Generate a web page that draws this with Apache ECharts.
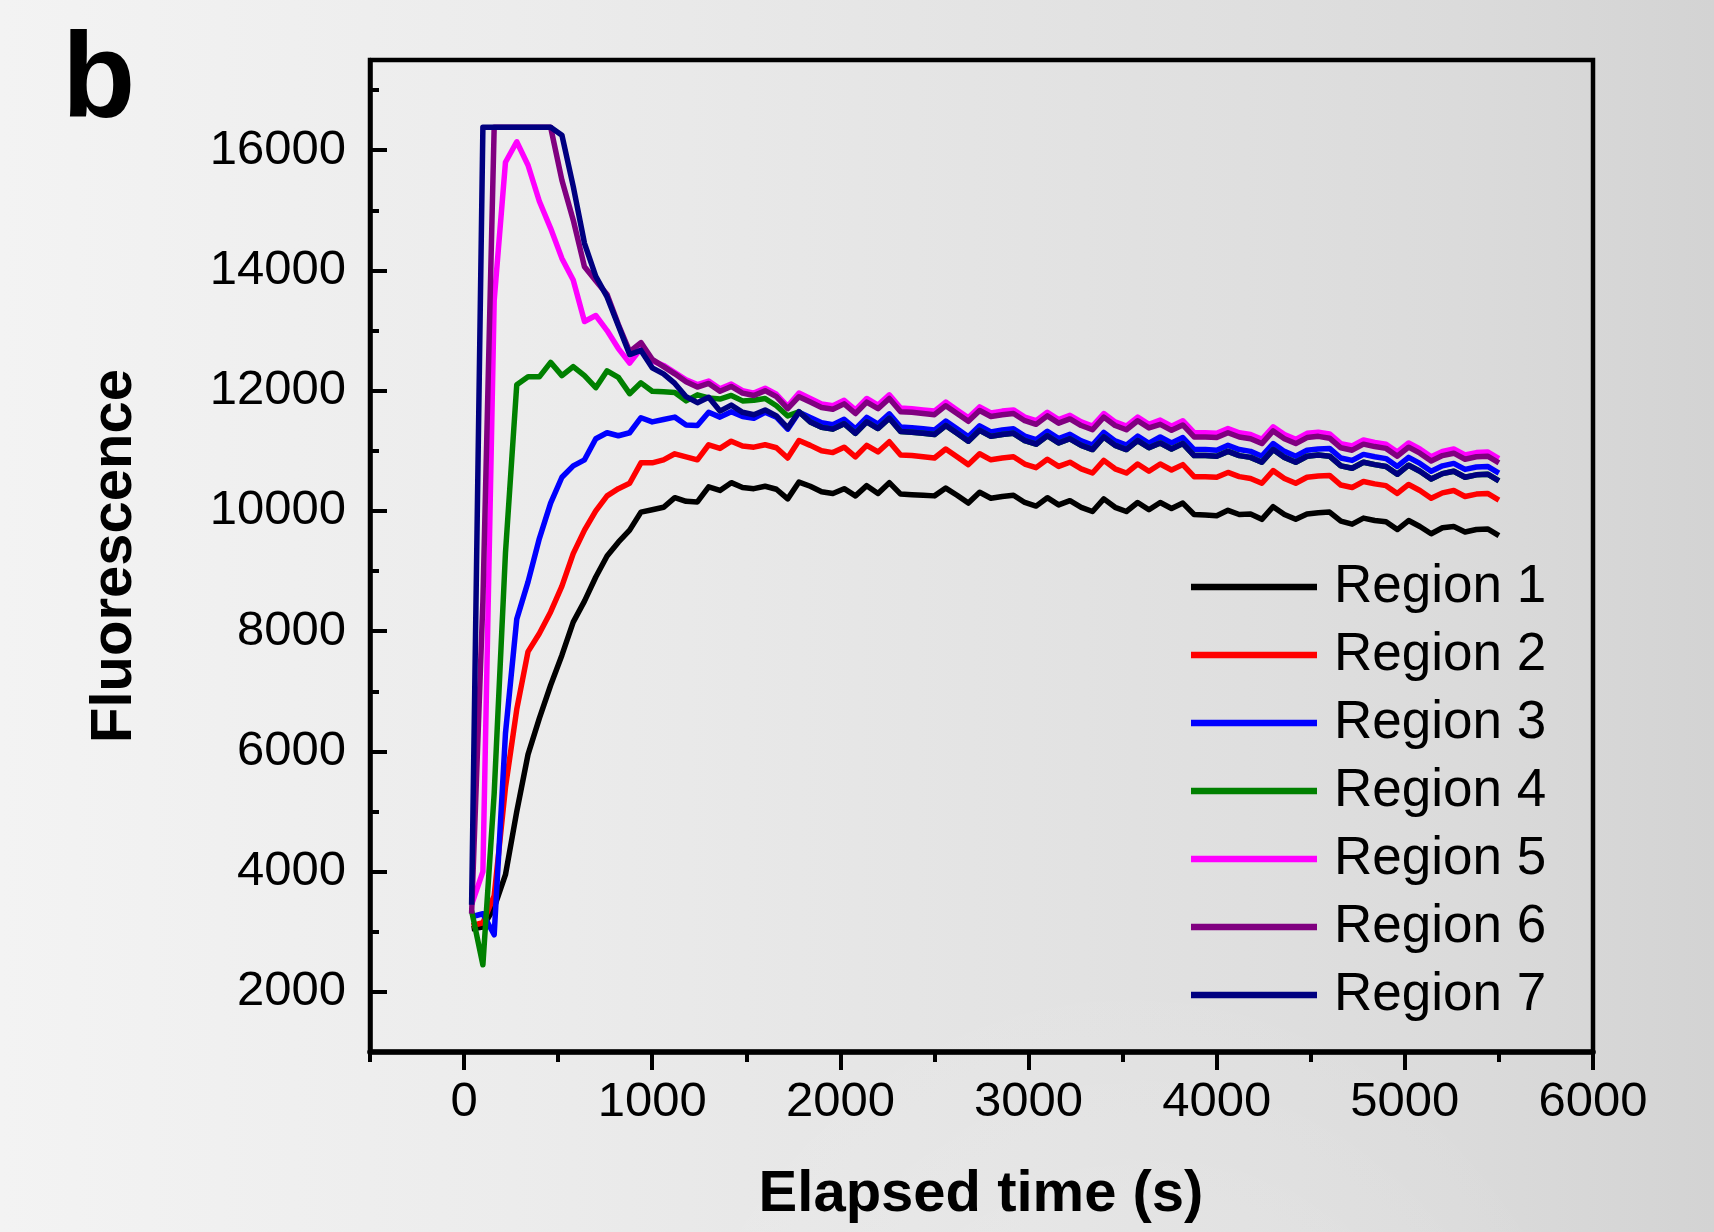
<!DOCTYPE html>
<html>
<head>
<meta charset="utf-8">
<script src="https://cdn.jsdelivr.net/npm/echarts@6/dist/echarts.min.js"></script>
<style>
html,body{margin:0;padding:0;width:1714px;height:1232px;overflow:hidden;}
body{background:
  radial-gradient(ellipse 520px 600px at 1120px 1560px, rgba(255,255,255,0.25), rgba(255,255,255,0) 100%),
  linear-gradient(to right,#f3f3f3 0%,#ececec 30%,#e3e3e3 60%,#dbdbdb 85%,#d3d3d3 100%);}
#c{width:1714px;height:1232px;}
</style>
</head>
<body>
<div id="c"></div>
<script>
const times = [40,100,160,220,280,340,400,460,520,580,640,700,760,820,880,940,1000,1060,1120,1180,1240,1300,1360,1420,1480,1540,1600,1660,1720,1780,1840,1900,1960,2020,2080,2140,2200,2260,2320,2380,2440,2500,2560,2620,2680,2740,2800,2860,2920,2980,3040,3100,3160,3220,3280,3340,3400,3460,3520,3580,3640,3700,3760,3820,3880,3940,4000,4060,4120,4180,4240,4300,4360,4420,4480,4540,4600,4660,4720,4780,4840,4900,4960,5020,5080,5140,5200,5260,5320,5380,5440,5500];

const region1 = [3050,3080,3400,3950,5000,5950,6550,7100,7600,8150,8500,8900,9250,9480,9680,9980,10020,10060,10220,10160,10150,10400,10340,10470,10390,10370,10410,10360,10200,
10480,10410,10320,10290,10370,10250,10420,10290,10470,10280,10270,10260,10250,10380,10260,10130,10310,10210,10240,10260,10140,10080,10220,10100,10170,10060,9990,10200,10060,9990,10140,10020,10140,10040,10130,9940,9930,9920,10010,9940,9950,9860,10070,9940,9860,9950,9970,9980,9830,9780,9880,9840,9820,9690,9840,9740,9620,9720,9740,9650,9690,9700,9590];

const region2 = [3100,3150,3600,5400,6700,7660,7960,8320,8750,9290,9680,10000,10250,10370,10460,10800,10800,10850,10950,10900,10850,11100,11040,11160,11080,11060,11100,11050,10880,
11170,11090,11000,10970,11060,10900,11090,10980,11150,10930,10920,10900,10880,11030,10900,10770,10950,10850,10880,10900,10780,10720,10860,10740,10810,10700,10630,10840,10700,10630,10780,10660,10780,10680,10770,10570,10570,10560,10640,10570,10540,10460,10670,10540,10460,10560,10580,10590,10430,10390,10490,10450,10420,10290,10440,10340,10210,10300,10340,10240,10280,10290,10180];

const region3 = [3250,3300,2950,6300,8200,8820,9540,10130,10560,10750,10850,11200,11300,11250,11300,11550,11480,11520,11560,11430,11420,11640,11560,11650,11570,11540,11640,11560,11360,11640,
11555,11465,11435,11525,11365,11555,11445,11615,11395,11385,11365,11345,11495,11365,11235,11415,11315,11345,11365,11245,11185,11325,11205,11275,11165,11095,11305,11165,11095,11245,11125,
11230,11130,11220,11020,11020,11010,11090,11020,10990,10910,11120,10990,10910,11010,11030,11040,10880,10840,10940,10900,10870,10740,10890,10790,10660,10750,10790,10690,10730,10740,10630];

const region4 = [3350,2450,5300,9300,12100,12230,12230,12470,12250,12400,12250,12050,12330,12220,11950,12130,11990,11980,11970,11830,11930,11880,11860,11920,11830,11840,11870,11750,11580,11650,
11480,11390,11360,11450,11290,11480,11370,11540,11320,11310,11290,11270,11420,11290,11160,11340,11240,11270,11290,11170,11110,11250,11130,11200,11090,11020,11230,11090,11020,11170,11050,
11130,11030,11120,10920,10920,10910,10990,10920,10890,10810,11020,10890,10810,10910,10930,
10910,10750,10710,10810,10770,10740,10610,10760,10660,10530,10620,10660,10560,10600,10610,10500];

const region5 = [3450,4000,13500,15800,16140,15750,15150,14700,14200,13840,13150,13250,13000,12700,12460,12700,12500,12420,12300,12180,12100,12160,12030,12110,12000,11960,12040,11940,11740,11960,
11870,11780,11750,11840,11680,11870,11760,11930,11710,11700,11680,11660,11810,11680,11550,11730,11630,11660,11680,11560,11500,11640,11520,11590,11480,11410,11620,11480,11410,11560,11440,
11510,11410,11500,11300,11300,11290,11370,11300,11270,11190,11400,11270,11190,11290,11310,
11280,11120,11080,11180,11140,11110,10980,11130,11030,10900,10990,11030,10930,10970,10980,10870];

const region6 = [3300,8500,16383,16383,16383,16383,16383,16383,15500,14840,14060,13830,13600,13100,12650,12800,12520,12400,12280,12150,12060,12120,11990,12070,11960,11920,12000,11900,11700,11900,
11810,11720,11690,11780,11620,11810,11700,11870,11650,11640,11620,11600,11750,11620,11490,11670,11570,11600,11620,11500,11440,11580,11460,11530,11420,11350,11560,11420,11350,11500,11380,
11440,11340,11430,11230,11230,11220,11300,11230,11200,11120,11330,11200,11120,11220,11240,
11210,11050,11010,11110,11070,11040,10910,11060,10960,10830,10920,10960,10860,10900,10910,10800];

const region7 = [3450,16383,16383,16383,16383,16383,16383,16383,16250,15400,14450,13900,13560,13080,12600,12670,12380,12280,12120,11900,11800,11890,11660,11760,11640,11600,11680,11580,11380,11650,
11480,11390,11360,11450,11290,11480,11370,11540,11320,11310,11290,11270,11420,11290,11160,11340,11240,11270,11290,11170,11110,11250,11130,11200,11090,11020,11230,11090,11020,11170,11050,
11130,11030,11120,10920,10920,10910,10990,10920,10890,10810,11020,10890,10810,10910,10930,
10910,10750,10710,10810,10770,10740,10610,10760,10660,10530,10620,10660,10560,10600,10610,10500];

const seriesNames = ['Region 1','Region 2','Region 3','Region 4','Region 5','Region 6','Region 7'];
const seriesColors = ['#000000','#ff0000','#0000ff','#008000','#ff00ff','#800080','#000080'];
const seriesValues = [region1,region2,region3,region4,region5,region6,region7];

const xMajorTicks = [0,1000,2000,3000,4000,5000,6000];
const xMinorTicks = [-500,500,1500,2500,3500,4500,5500];
const yMajorTicks = [2000,4000,6000,8000,10000,12000,14000,16000];
const yMinorTicks = [3000,5000,7000,9000,11000,13000,15000,17000];

const FONT = '"Liberation Sans", Arial, sans-serif';
const chart = echarts.init(document.getElementById('c'), null, {renderer:'canvas'});

const gridPos = {left:370, right:121, top:60, bottom:180};
const plain = v => String(v);

const option = {
  backgroundColor: 'transparent',
  animation: false,
  grid: Object.assign({show:true, borderColor:'#000', borderWidth:4.5, backgroundColor:'transparent'}, gridPos),
  legend: {
    orient:'vertical', left:1186, top:548,
    itemWidth:126, itemHeight:6.5, itemGap:0, icon:'rect',
    textStyle:{fontFamily:FONT, fontSize:53, color:'#000', lineHeight:68, padding:[0,0,0,12]},
    data: seriesNames
  },
  xAxis: [{
    type:'value', min:-500, max:6000, interval:500, position:'bottom',
    axisLine:{show:true, onZero:false, lineStyle:{color:'#000', width:5.5}},
    axisTick:{show:true, inside:false, length:18, customValues:xMajorTicks, lineStyle:{color:'#000', width:4}},
    axisLabel:{show:true, customValues:xMajorTicks, formatter:plain, margin:26, fontFamily:FONT, fontSize:49, color:'#000'},
    splitLine:{show:false}
  },{
    type:'value', min:-500, max:6000, interval:500, position:'bottom',
    axisLine:{show:false, onZero:false},
    axisTick:{show:true, inside:false, length:10, customValues:xMinorTicks, lineStyle:{color:'#000', width:4}},
    axisLabel:{show:false}, splitLine:{show:false}
  }],
  yAxis: [{
    type:'value', min:1000, max:17500, interval:1000, position:'left',
    axisLine:{show:true, onZero:false, lineStyle:{color:'#000', width:4.5}},
    axisTick:{show:true, inside:true, length:17, customValues:yMajorTicks, lineStyle:{color:'#000', width:4}},
    axisLabel:{show:true, customValues:yMajorTicks, formatter:plain, margin:24, fontFamily:FONT, fontSize:49, color:'#000'},
    splitLine:{show:false}
  },{
    type:'value', min:1000, max:17500, interval:1000, position:'left',
    axisLine:{show:false, onZero:false},
    axisTick:{show:true, inside:true, length:9, customValues:yMinorTicks, lineStyle:{color:'#000', width:4}},
    axisLabel:{show:false}, splitLine:{show:false}
  }],
  graphic: [
    {type:'text', left:62, top:24, style:{text:'b', font:'bold 120px ' + FONT, fill:'#000'}},
    {type:'text', x:115, y:556, rotation:Math.PI/2, style:{text:'Fluorescence', font:'bold 58px ' + FONT, fill:'#000', textAlign:'center', textVerticalAlign:'middle'}},
    {type:'text', x:981, y:1195, style:{text:'Elapsed time (s)', font:'bold 58px ' + FONT, fill:'#000', textAlign:'center', textVerticalAlign:'middle'}}
  ],
  series: seriesValues.map((vals, k) => ({
    name: seriesNames[k], type:'line', xAxisIndex:0, yAxisIndex:0,
    showSymbol:false, symbol:'none', smooth:false,
    color: seriesColors[k],
    lineStyle:{color:seriesColors[k], width:5.5, join:'round'},
    data: times.map((t, i) => [t, vals[i]])
  }))
};
chart.setOption(option);
</script>
</body>
</html>
